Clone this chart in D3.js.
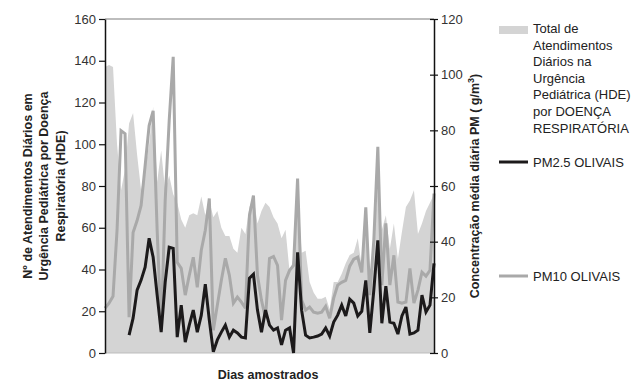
<!DOCTYPE html>
<html><head><meta charset="utf-8">
<script src="https://cdn.jsdelivr.net/npm/d3@7/dist/d3.min.js"></script>
<style>
body{margin:0;background:#fff;}
svg{display:block;font-family:"Liberation Sans",Arial,sans-serif;}
</style></head>
<body>
<svg id="c" width="637" height="383"></svg>
<script>
// Daily data (sampled days)
const hdeTotal = [137,138,137,100,78,88,110,115,95,78,
 88,100,118,82,97,78,85,76,72,64,
 60,66,67,66,75,66,73,65,68,60,
 56,56,50,48,60,57,70,75,62,68,
 72,70,65,62,55,59,39,45,80,48,
 49,34,29,26,26,27,21,34,34,38,
 43,47,48,55,41,70,30,55,80,59,
 66,50,62,45,58,70,73,78,57,62,
 68,72,76];
const pm10 = [16.1,17.9,20.4,44.1,79.9,78.8,12.9,43.3,47.6,53.0,
 67.3,81.7,87.0,44.1,8.2,54.8,83.5,106.4,32.6,30.4,
 20.8,27.9,34.4,23.6,36.9,44.1,55.5,8.2,17.2,26.1,
 34.0,27.9,17.9,20.1,18.3,16.1,49.4,56.6,27.9,19.0,
 12.5,34.0,34.7,31.5,11.8,26.1,29.7,31.5,62.7,19.0,
 15.4,16.5,14.7,14.3,14.7,16.8,12.5,19.7,24.4,25.4,
 26.1,31.2,33.7,34.4,29.0,52.3,20.8,40.5,74.1,24.4,
 46.6,24.4,35.1,18.3,17.9,18.3,30.4,17.9,22.6,29.0,
 27.6,29.7,57.3];
const pm25 = [null,null,null,null,null,null,
 6.4,12.5,22.6,26.2,30.8,41.2,34.4,20.8,7.5,25.4,38.0,37.6,5.7,17.2,
 3.9,10.0,15.4,7.5,13.6,24.7,11.8,0.4,4.7,7.5,10.0,5.7,8.2,7.2,5.7,5.4,
 26.9,28.3,15.4,7.5,15.4,10.0,8.2,9.0,2.9,8.2,9.0,0,36.2,15.4,6.4,5.4,
 5.7,6.1,6.8,9.0,6.1,11.1,13.6,17.2,13.3,19.3,17.9,13.3,15.0,26.1,7.2,
 22.6,40.5,10.7,24.0,11.1,10.7,6.8,13.3,16.5,6.8,7.2,8.2,20.8,14.7,17.2,32.2];
const leftTicks = [0,20,40,60,80,100,120,140,160];
const rightTicks = [0,20,40,60,80,100,120];
const legendItems = [
 {key:"hde", lines:["Total de","Atendimentos","Diários na","Urgência","Pediátrica (HDE)","por DOENÇA","RESPIRATÓRIA"]},
 {key:"pm25", lines:["PM2.5 OLIVAIS"]},
 {key:"pm10", lines:["PM10 OLIVAIS"]}
];

const svg = d3.select("#c");
const L = 105, R = 434, T = 19, B = 353;
const n = hdeTotal.length;
const x = d3.scaleLinear().domain([0, n-1]).range([L, R]);
const yL = d3.scaleLinear().domain([0,160]).range([B, T]);
const yR = d3.scaleLinear().domain([0,120]).range([B, T]);

const cArea = "#d4d4d4", cPM10 = "#a9a9a9", cPM25 = "#1c1a1b";

// area
svg.append("path")
 .datum(hdeTotal)
 .attr("fill", cArea)
 .attr("d", d3.area().x((d,i)=>x(i)).y0(B).y1(d=>yL(d)));

// top border & baseline
svg.append("line").attr("x1",L).attr("x2",R).attr("y1",T).attr("y2",T)
 .attr("stroke","#bdbdbd").attr("stroke-width",2);
svg.append("line").attr("x1",L).attr("x2",R).attr("y1",B).attr("y2",B)
 .attr("stroke","#bdbdbd").attr("stroke-width",1);

// PM10
svg.append("path").datum(pm10)
 .attr("fill","none").attr("stroke",cPM10).attr("stroke-width",3)
 .attr("stroke-linejoin","miter").attr("stroke-miterlimit",3)
 .attr("d", d3.line().defined(d=>d!==null).x((d,i)=>x(i)).y(d=>yR(d)));

// PM2.5
svg.append("path").datum(pm25)
 .attr("fill","none").attr("stroke",cPM25).attr("stroke-width",3)
 .attr("stroke-linejoin","miter").attr("stroke-miterlimit",3)
 .attr("d", d3.line().defined(d=>d!==null).x((d,i)=>x(i)).y(d=>yR(d)));

// left axis
const gl = svg.append("g").attr("transform",`translate(${L},0)`)
 .call(d3.axisLeft(yL).tickValues(leftTicks).tickSize(6).tickPadding(3).tickSizeOuter(0));
// right axis
const gr = svg.append("g").attr("transform",`translate(${R},0)`)
 .call(d3.axisRight(yR).tickValues(rightTicks).tickSize(4).tickPadding(3).tickSizeOuter(0));
gr.selectAll(".tick line").attr("x1",-4).attr("x2",4);
[gl,gr].forEach(g=>{
 g.select(".domain").attr("stroke","#111").attr("stroke-width",1.5);
 g.selectAll(".tick line").attr("stroke","#111").attr("stroke-width",1.2);
 g.selectAll(".tick text").attr("fill","#333").style("font-size","13px")
  .style("font-family","'Liberation Sans',Arial,sans-serif");
});

// left title
const lt = svg.append("text").attr("transform","translate(44,186) rotate(-90)")
 .attr("text-anchor","middle").attr("font-weight","bold").attr("font-size","12.5px").attr("fill","#222");
["Nº de Atendimentos Diários em","Urgência Pediátrica por Doença","Respiratória (HDE)"].forEach((s,i)=>{
 lt.append("tspan").attr("x",0).attr("dy", i===0 ? "-12.5" : "16.5").text(s);
});
// right title
const rt = svg.append("text").attr("transform","translate(479,186) rotate(-90)")
 .attr("text-anchor","middle").attr("font-weight","bold").attr("font-size","12.5px").attr("fill","#222");
rt.append("tspan").text("Concentração média diária PM (  g/m");
rt.append("tspan").attr("dy",-5).attr("font-size","9px").text("3");
rt.append("tspan").attr("dy",5).text(")");

// x label
svg.append("text").attr("x",268).attr("y",379).attr("text-anchor","middle")
 .attr("font-weight","bold").attr("font-size","12.5px").attr("fill","#222").text("Dias amostrados");

// legend
const lg = svg.append("g");
const lx = 499, lw = 29, tx = 533;
lg.append("rect").attr("x",lx).attr("y",26).attr("width",lw).attr("height",8).attr("fill",cArea);
legendItems[0].lines.forEach((s,i)=>{
 lg.append("text").attr("x",tx).attr("y",33 + i*16.6).attr("font-size","13px").attr("fill","#222").text(s);
});
lg.append("line").attr("x1",lx).attr("x2",lx+lw).attr("y1",162).attr("y2",162).attr("stroke",cPM25).attr("stroke-width",3);
lg.append("text").attr("x",tx).attr("y",166.5).attr("font-size","13px").attr("fill","#222").text(legendItems[1].lines[0]);
lg.append("line").attr("x1",lx).attr("x2",lx+lw).attr("y1",276).attr("y2",276).attr("stroke",cPM10).attr("stroke-width",3);
lg.append("text").attr("x",tx).attr("y",280.5).attr("font-size","13px").attr("fill","#222").text(legendItems[2].lines[0]);
</script>
</body></html>
